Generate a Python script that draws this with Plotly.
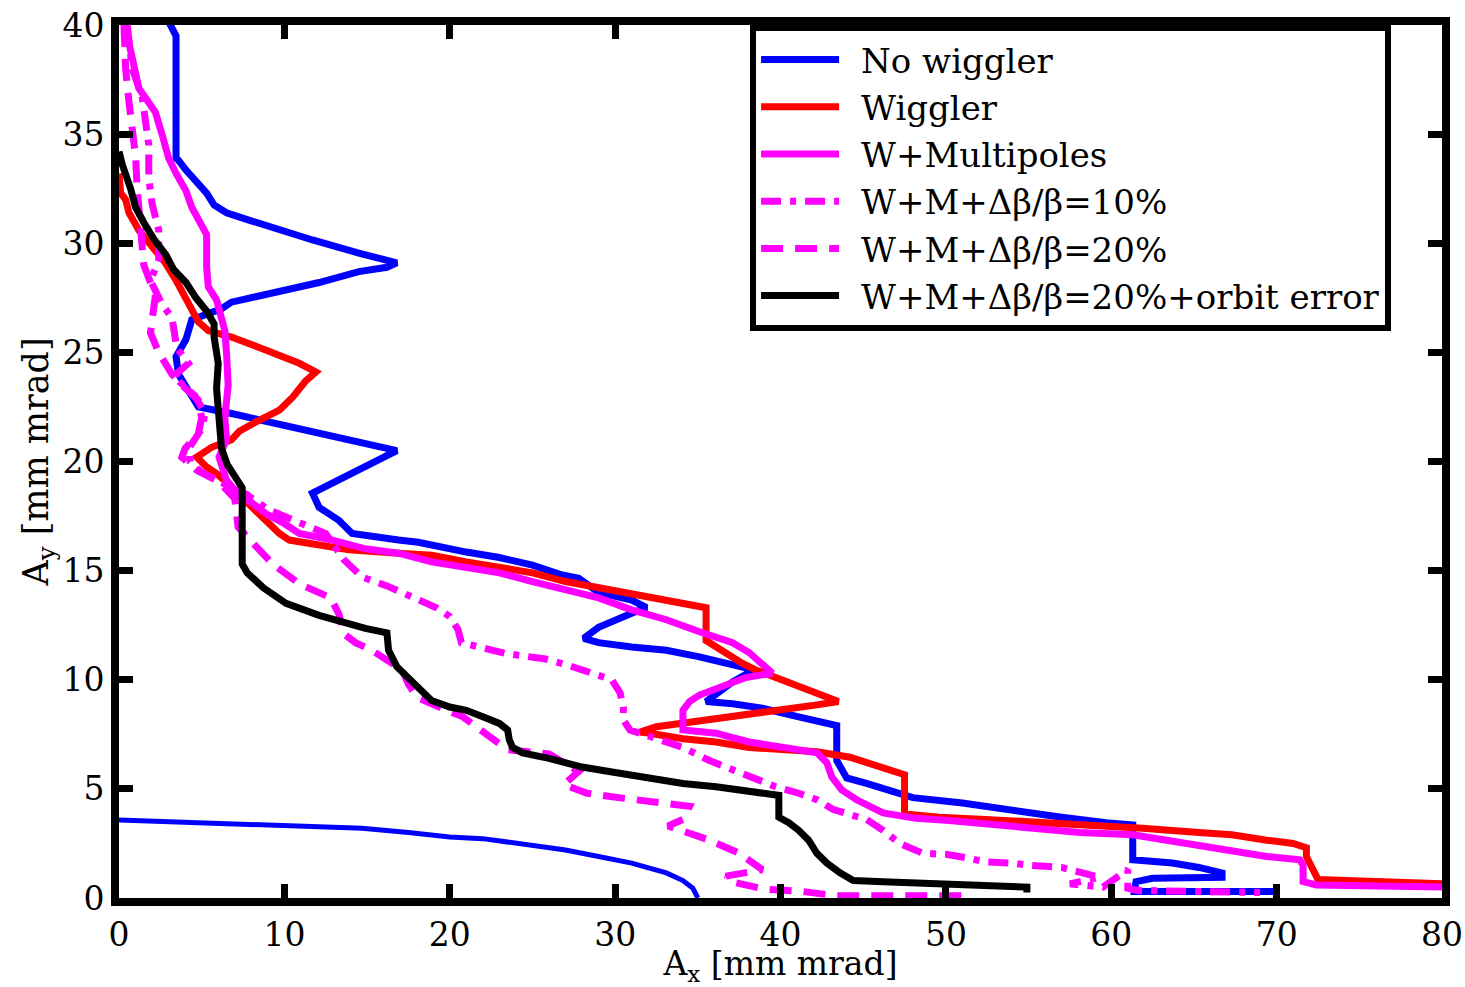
import plotly.graph_objects as go

# ---- data ----
nowig_x = [2.9, 3.45, 3.45, 3.6, 4.05, 4.65, 5.3, 5.75, 6.5, 7.9, 9.7, 11.7, 14.5, 16.8,
           16.2, 14.5, 12.1, 10.1, 8.5, 6.8, 6.2, 4.4, 4.05, 3.45, 3.6, 4.2, 4.8, 6.8, 16.8,
           11.7, 12.1, 13.3, 14.1, 16.9, 18.1, 21.0, 23.0, 25.0, 26.8, 27.8, 29.0, 31.0, 31.9,
           31.0, 29.8, 29.0, 28.1, 29.0, 31.0, 33.1, 35.1, 37.1, 38.4, 37.1, 35.5, 37.1, 38.9,
           41.1, 43.4, 43.4, 44.0, 45.2, 47.0, 48.0, 51.0, 54.0, 57.0, 59.7, 61.3, 61.3, 63.7,
           65.3, 66.7, 66.7, 62.5, 61.5, 61.4, 70.0]
nowig_y = [40.3, 39.5, 33.9, 33.8, 33.35, 32.9, 32.3, 31.75, 31.4, 31.05, 30.6, 30.15, 29.55, 29.1,
           28.9, 28.7, 28.2, 27.85, 27.6, 27.3, 27.0, 26.5, 25.6, 24.8, 24.0, 23.3, 22.5, 22.2, 20.5,
           18.55, 17.9, 17.3, 16.7, 16.4, 16.3, 15.85, 15.6, 15.25, 14.8, 14.65, 14.0, 13.65, 13.3,
           13.05, 12.7, 12.4, 11.9, 11.7, 11.5, 11.35, 11.05, 10.7, 10.45, 9.9, 9.0, 8.9, 8.7,
           8.3, 7.9, 6.3, 5.5, 5.25, 4.8, 4.6, 4.35, 4.0, 3.7, 3.45, 3.35, 1.75, 1.6,
           1.4, 1.15, 0.95, 0.9, 0.75, 0.3, 0.3]

aper_x = [0, 3.8, 10.9, 14.7, 17.5, 20.0, 22.0, 24.0, 27.0, 29.0, 31.0, 33.1, 34.1, 34.7, 35.0]
aper_y = [3.57, 3.48, 3.34, 3.2, 3.0, 2.8, 2.72, 2.5, 2.2, 1.9, 1.6, 1.15, 0.8, 0.45, 0.0]

wig_x = [0, 0.1, 0.4, 0.6, 1.2, 1.8, 2.8, 3.45, 4.05, 4.4, 4.8, 5.4, 6.8, 8.9, 10.9, 11.9, 11.3,
         10.5, 9.7, 8.5, 7.3, 6.8, 5.6, 4.7, 5.3, 5.9, 6.8, 8.05, 8.9, 9.7, 10.3, 11.9, 13.9, 16.9,
         18.9, 21.0, 23.0, 25.0, 27.0, 29.0, 31.0, 33.1, 35.1, 35.5, 35.5, 36.7, 37.7, 38.5, 39.7,
         41.1, 42.2, 43.5, 42.2, 39.1, 36.7, 34.5, 32.5, 31.5, 32.1, 34.1, 36.1, 38.1, 40.1, 42.2,
         44.2, 46.2, 47.5, 47.5, 49.6, 52.4, 55.1, 58.1, 61.9, 65.3, 67.3, 69.4, 71.0, 71.8, 71.8,
         72.5, 78.2, 80.0]
wig_y = [33.2, 32.3, 32.0, 31.4, 30.6, 30.0, 29.1, 28.3, 27.5, 26.9, 26.4, 26.0, 25.7, 25.1, 24.5,
         24.1, 23.7, 22.95, 22.35, 21.9, 21.4, 21.0, 20.65, 20.2, 19.75, 19.45, 18.85, 17.9, 17.3,
         16.7, 16.4, 16.2, 15.95, 15.8, 15.7, 15.4, 15.15, 14.9, 14.5, 14.2, 13.95, 13.65, 13.3,
         13.3, 11.8, 11.2, 10.75, 10.45, 10.1, 9.65, 9.3, 9.0, 8.85, 8.5, 8.3, 8.05, 7.85, 7.6,
         7.55, 7.3, 7.15, 6.9, 6.8, 6.7, 6.45, 5.95, 5.65, 3.85, 3.7, 3.6, 3.5, 3.35, 3.2, 3.0,
         2.9, 2.65, 2.5, 2.3, 1.9, 0.85, 0.75, 0.65]

mult_x = [0.2, 0.4, 0.8, 1.2, 1.6, 2.2, 2.6, 3.0, 3.45, 4.05, 4.4, 4.85, 5.3, 5.3, 5.4, 5.9, 6.2,
          6.4, 6.5, 6.6, 6.4, 6.5, 6.05, 6.5, 7.3, 8.05, 8.9, 9.9, 10.9, 12.9, 14.9, 16.9, 18.9,
          21.0, 23.0, 25.0, 27.0, 29.0, 31.0, 33.1, 35.1, 37.1, 38.1, 39.1, 39.5, 37.9, 36.3, 35.1,
          34.5, 34.1, 34.1, 36.1, 38.1, 40.1, 42.2, 42.8, 43.1, 43.7, 44.6, 46.2, 48.2, 50.2, 54.0,
          58.1, 61.3, 63.3, 65.3, 67.3, 69.4, 71.4, 71.6, 71.6, 72.4, 80.0]
mult_y = [40.5, 39.9, 38.5, 37.1, 36.6, 36.0, 35.0, 33.9, 33.2, 32.4, 31.65, 31.05, 30.4, 28.9,
          28.0, 27.4, 26.6, 26.0, 25.0, 23.5, 22.0, 21.0, 20.2, 19.15, 18.4, 18.1, 17.6, 17.2,
          16.7, 16.4, 16.0, 15.8, 15.4, 15.15, 14.9, 14.5, 14.1, 13.75, 13.2, 12.75, 12.2, 11.7,
          11.25, 10.6, 10.3, 10.1, 9.65, 9.3, 9.0, 8.6, 7.7, 7.55, 7.15, 6.9, 6.65, 6.2, 5.55,
          4.95, 4.5, 3.9, 3.65, 3.55, 3.25, 3.0, 2.9, 2.65, 2.4, 2.1, 1.9, 1.75, 1.5, 0.75, 0.6, 0.5]

b10_x = [0.5, 0.8, 1.4, 1.8, 1.8, 2.0, 2.4, 2.4, 1.9, 2.6, 3.2, 3.5, 4.2, 3.3, 4.6, 5.2, 5.0, 4.3,
         4.3, 5.0, 6.3, 7.7, 9.0, 10.5, 12.5, 13.6, 14.7, 16.2, 17.5, 19.2, 20.0, 20.5, 20.7,
         21.6, 22.6, 23.4, 24.6, 25.8, 27.0, 28.2, 29.5, 29.8, 30.3, 30.5, 30.5, 30.9, 32.1, 34.1,
         35.7, 37.1, 38.1, 39.7, 41.1, 42.2, 43.2, 45.2, 46.2, 47.2, 48.6, 50.0, 51.2, 52.4, 54.0,
         55.0, 57.0, 58.1, 59.3, 57.5, 59.5, 61.0, 61.0, 61.5, 65.0, 69.0]
b10_y = [40.0, 38.0, 36.7, 34.5, 33.0, 31.8, 30.6, 29.2, 28.3, 27.2, 26.6, 25.2, 24.5, 23.9, 23.0,
         22.2, 21.5, 20.7, 20.0, 19.5, 19.0, 18.5, 17.8, 17.3, 16.7, 15.5, 14.7, 14.3, 13.9, 13.3,
         12.9, 12.3, 11.7, 11.5, 11.35, 11.2, 11.05, 10.95, 10.7, 10.4, 10.1, 10.0, 9.4, 8.75,
         8.15, 7.7, 7.4, 6.9, 6.3, 5.85, 5.55, 5.1, 4.8, 4.5, 4.05, 3.6, 3.1, 2.5, 2.05, 2.0,
         1.85, 1.65, 1.6, 1.5, 1.4, 1.15, 0.95, 0.65, 0.5, 1.3, 0.45, 0.35, 0.3, 0.25]

b20_x = [0.3, 0.4, 0.6, 0.8, 1.0, 1.1, 1.3, 1.5, 2.2, 2.0, 1.9, 2.4, 3.2, 3.8, 4.8, 5.0, 4.8, 4.0,
         3.8, 4.7, 6.0, 7.0, 7.2, 8.3, 9.3, 10.9, 12.8, 13.3, 13.6, 14.3, 15.3, 16.2, 17.1, 17.5,
         18.0, 19.8, 20.8, 22.4, 23.5, 26.0, 27.8, 26.9, 28.3, 30.2, 32.4, 34.5, 34.1, 33.2, 35.7,
         37.5, 38.9, 36.7, 37.3, 39.1, 41.3, 43.4, 47.0, 51.0]
b20_y = [40.0, 38.0, 36.5, 35.5, 34.0, 32.5, 30.5, 29.0, 27.6, 26.4, 25.9, 25.0, 24.0, 23.5, 22.8,
         22.0, 21.3, 20.6, 20.2, 19.6, 19.1, 18.3, 17.0, 16.1, 15.3, 14.4, 13.75, 13.0, 12.1,
         11.7, 11.35, 10.9, 10.5, 9.8, 9.2, 8.6, 8.3, 7.4, 6.8, 6.6, 5.8, 5.2, 4.8, 4.6, 4.4, 4.2,
         3.6, 3.3, 2.65, 2.05, 1.3, 1.0, 0.7, 0.4, 0.3, 0.1, 0.1, 0.1]

orb_x = [0, 0.2, 0.7, 1.0, 1.5, 2.1, 2.85, 3.3, 4.05, 4.65, 5.3, 5.75, 5.75, 6.0, 5.9, 6.05, 6.2,
         6.55, 7.1, 7.45, 7.45, 7.75, 8.75, 10.1, 12.1, 14.1, 14.9, 16.2, 16.3, 16.8, 18.0, 18.9,
         20.0, 21.0, 22.0, 23.0, 23.5, 23.6, 23.8, 24.4, 26.0, 28.0, 30.0, 32.1, 34.1, 36.1, 38.1,
         39.9, 39.9, 40.5, 41.1, 41.7, 42.2, 42.8, 43.6, 44.4, 46.2, 48.2, 50.6, 54.9, 54.9]
orb_y = [34.2, 33.6, 32.5, 31.65, 30.95, 30.2, 29.45, 28.8, 28.2, 27.5, 26.9, 26.3, 25.7, 24.5,
         23.35, 21.65, 20.6, 19.85, 19.2, 18.8, 15.3, 14.9, 14.2, 13.5, 12.95, 12.5, 12.35, 12.15,
         11.35, 10.6, 9.65, 9.05, 8.75, 8.6, 8.3, 8.0, 7.7, 7.25, 6.9, 6.65, 6.4, 6.0, 5.75, 5.5,
         5.25, 5.1, 4.85, 4.7, 3.7, 3.45, 3.1, 2.65, 2.05, 1.6, 1.15, 0.8, 0.75, 0.7, 0.6, 0.5, 0.25]

names = ["No wiggler", "Wiggler", "W+Multipoles", "W+M+Δβ/β=10%", "W+M+Δβ/β=20%",
         "W+M+Δβ/β=20%+orbit error"]
x_ticks = [0, 10, 20, 30, 40, 50, 60, 70, 80]
y_ticks = [0, 5, 10, 15, 20, 25, 30, 35, 40]
x_title = "A<sub>x</sub> [mm mrad]"
y_title = "A<sub>y</sub> [mm mrad]"

FONT = "DejaVu Serif"
LW = 7
PAD = "\u2002"  # small gap between legend line and its text

fig = go.Figure()
fig.add_trace(go.Scatter(x=nowig_x, y=nowig_y, mode="lines", name=PAD + names[0],
                         line=dict(color="#0000ff", width=LW)))
fig.add_trace(go.Scatter(x=aper_x, y=aper_y, mode="lines", showlegend=False,
                         line=dict(color="#0000ff", width=5)))
fig.add_trace(go.Scatter(x=wig_x, y=wig_y, mode="lines", name=PAD + names[1],
                         line=dict(color="#ff0000", width=LW)))
fig.add_trace(go.Scatter(x=mult_x, y=mult_y, mode="lines", name=PAD + names[2],
                         line=dict(color="#ff00ff", width=LW)))
fig.add_trace(go.Scatter(x=b10_x, y=b10_y, mode="lines", name=PAD + names[3],
                         line=dict(color="#ff00ff", width=LW, dash="20px,9px,6px,9px")))
fig.add_trace(go.Scatter(x=b20_x, y=b20_y, mode="lines", name=PAD + names[4],
                         line=dict(color="#ff00ff", width=LW, dash="22px,12px")))
fig.add_trace(go.Scatter(x=orb_x, y=orb_y, mode="lines", name=PAD + names[5],
                         line=dict(color="#000000", width=LW)))

axis_common = dict(
    showline=True, linecolor="black", linewidth=8, mirror="ticks",
    ticks="inside", ticklen=14, tickwidth=7, tickcolor="black",
    showgrid=False, zeroline=False,
    tickfont=dict(family=FONT, size=33, color="black"),
)

fig.update_xaxes(range=[0, 80], tickvals=x_ticks, ticktext=[str(v) for v in x_ticks],
                 title=dict(text=x_title, standoff=11,
                            font=dict(family=FONT, size=33, color="black")),
                 **axis_common)
fig.update_yaxes(range=[0, 40], tickvals=y_ticks, ticktext=[str(v) for v in y_ticks],
                 title=dict(text=y_title, standoff=6,
                            font=dict(family=FONT, size=35, color="black")),
                 **axis_common)

fig.update_layout(
    width=1465, height=987,
    margin=dict(l=119, r=23, t=25, b=89, autoexpand=False),
    paper_bgcolor="white", plot_bgcolor="white",
    showlegend=True,
    legend=dict(x=0.477, y=1.0, xanchor="left", yanchor="top",
                bgcolor="white", bordercolor="black", borderwidth=6,
                font=dict(family=FONT, size=34, color="black"),
                itemwidth=78, tracegroupgap=0),
)

fig.write_html("out.html")
